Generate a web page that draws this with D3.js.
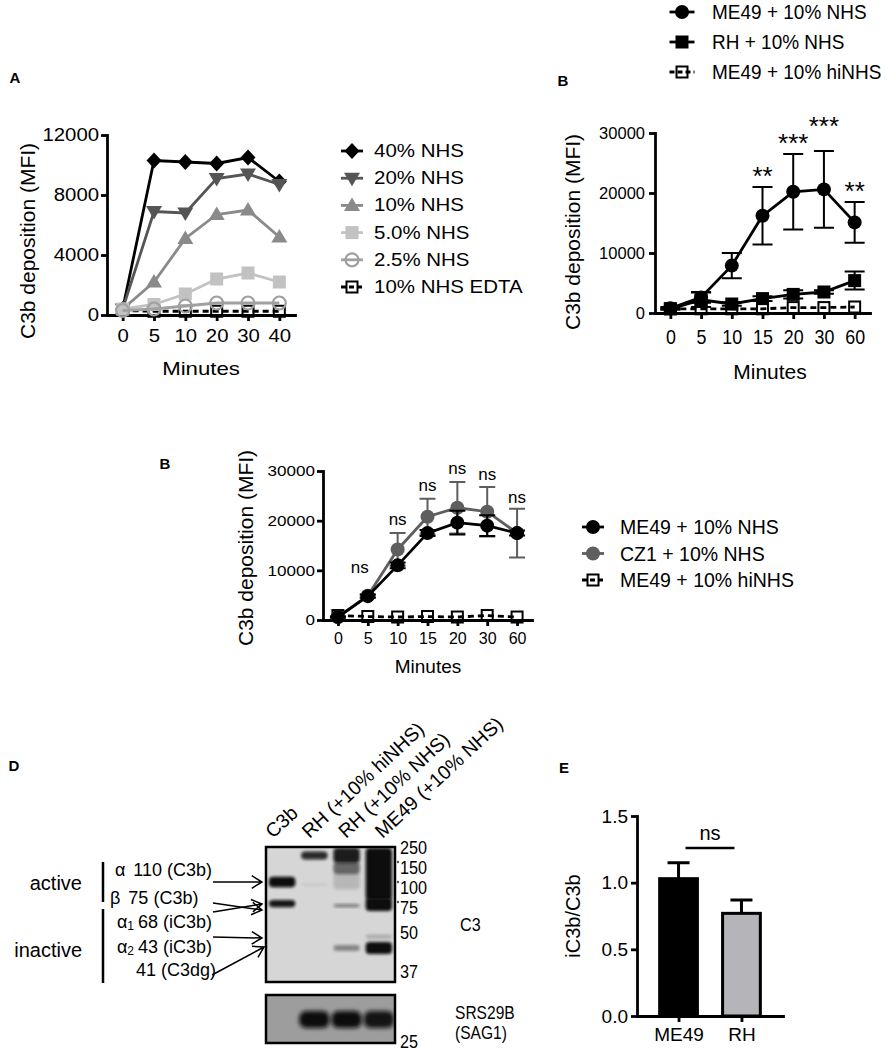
<!DOCTYPE html>
<html><head><meta charset="utf-8">
<script src="https://cdn.jsdelivr.net/npm/d3@7"></script>
<style>
body{margin:0;background:#fff}
svg{display:block}
text{font-family:"Liberation Sans",Arial,Helvetica,sans-serif;fill:#000}
</style>
</head><body>
<svg id="fig" width="893" height="1051"></svg>
<script>
// ================= DATA =================
// Panel A
const minutesA = ["0","5","10","20","30","40"];
const seriesNamesA = ["40% NHS","20% NHS","10% NHS","5.0% NHS","2.5% NHS","10% NHS EDTA"];
const nhs40 = [400,10300,10200,10100,10500,8900];
const nhs20 = [400,6900,6800,9100,9400,8700];
const nhs10 = [400,2200,5100,6700,7000,5200];
const nhs5  = [400,700,1400,2400,2800,2200];
const nhs2_5 = [300,400,600,800,800,800];
const nhsEdta = [300,250,250,250,250,250];
const ticksA = [0,4000,8000,12000];

// Panel B (top right)
const minutesB = ["0","5","10","15","20","30","60"];
const seriesNamesB = ["ME49 + 10% NHS","RH + 10% NHS","ME49 + 10% hiNHS"];
const me49B = [800,2600,7900,16200,20200,20600,15100];
const me49BErr = [200,900,2100,4800,6300,6400,3400];
const rhB = [700,2200,1500,2400,3100,3500,5400];
const rhBErr = [100,1200,300,400,700,300,1500];
const hiB = [700,700,700,700,900,900,1000];
const sigB = ["","","","**","***","***","**"];
const sigBLevel = [0,0,0,23300,28800,31600,20900];
const ticksB = [0,10000,20000,30000];

// Panel B (middle)
const minutesC = ["0","5","10","15","20","30","60"];
const seriesNamesC = ["ME49 + 10% NHS","CZ1 + 10% NHS","ME49 + 10% hiNHS"];
const me49C = [600,4800,11000,17500,19600,19000,17500];
const me49CErr = [100,300,600,600,2400,2100,500];
const cz1C = [600,4900,14200,20800,22600,21800,17500];
const cz1CErr = [100,300,3300,3600,5200,5000,4900];
const hiC = [900,700,600,700,600,900,600];
const sigC = ["","ns","ns","ns","ns","ns","ns"];
const sigCLevel = [0,10600,20200,27000,30600,29200,24600];
const ticksC = [0,10000,20000,30000];

// Panel D (western blot)
const lanes = ["C3b","RH (+10% hiNHS)","RH (+10% NHS)","ME49 (+10% NHS)"];
const ladderKDa = [250,150,100,75,50,37];
const ladderDots = [150,100,75];
const bandsC3 = [
  {lane:"C3b", hi:128, lo:102, density:1.0},
  {lane:"C3b", hi:85, lo:76, density:0.95},
  {lane:"RH (+10% hiNHS)", hi:112, lo:106, density:0.08},
  {lane:"RH (+10% hiNHS)", hi:232, lo:192, density:0.85},
  {lane:"RH (+10% NHS)", hi:140, lo:98, density:0.15},
  {lane:"RH (+10% NHS)", hi:180, lo:135, density:0.55},
  {lane:"RH (+10% NHS)", hi:250, lo:175, density:0.92},
  {lane:"RH (+10% NHS)", hi:80, lo:76, density:0.45},
  {lane:"RH (+10% NHS)", hi:46, lo:44, density:0.4},
  {lane:"ME49 (+10% NHS)", hi:250, lo:85, density:1.0},
  {lane:"ME49 (+10% NHS)", hi:88, lo:72, density:1.0},
  {lane:"ME49 (+10% NHS)", hi:49.5, lo:48, density:0.2},
  {lane:"ME49 (+10% NHS)", hi:47, lo:43, density:1.0}
];
const sag1Density = [0, 1, 1, 0.95];
const chainGreek = ["α","β","α","α",""];
const chainSub = ["","","1","2",""];
const chainKDa = ["110","75","68","43","41"];
const chainForm = ["C3b","C3b","iC3b","iC3b","C3dg"];

// Panel E
const strainsE = ["ME49","RH"];
const ratioE = [1.03, 0.77];
const ratioErrE = [0.12, 0.10];
const ticksE = [0, 0.5, 1.0, 1.5];
const sigELevel = 1.26;

// ================= DRAWING =================
const FONT = '"Liberation Sans", Arial, Helvetica, sans-serif';
const svg = d3.select("#fig");
svg.append("rect").attr("width",893).attr("height",1051).attr("fill","#fff");
const defs = svg.append("defs");
defs.append("filter").attr("id","blur").attr("x","-50%").attr("y","-50%").attr("width","200%").attr("height","200%")
  .append("feGaussianBlur").attr("stdDeviation",1.5);
defs.append("filter").attr("id","blur2").attr("x","-50%").attr("y","-50%").attr("width","200%").attr("height","200%")
  .append("feGaussianBlur").attr("stdDeviation",2.2);

function label(g, x, y, s, size, o = {}) {
  let tr = `translate(${x},${y})`;
  if (o.rot) tr += ` rotate(${o.rot})`;
  if (o.sx) tr += ` scale(${o.sx},1)`;
  return g.append("text").attr("transform", tr)
    .attr("text-anchor", o.anchor || "start")
    .attr("dominant-baseline", o.base || "central")
    .attr("font-size", size)
    .attr("font-weight", o.bold ? "bold" : null)
    .text(s);
}

function marker(g, type, x, y, color) {
  if (type === "diamond") {
    g.append("path").attr("d", `M${x},${y-8}L${x+7.5},${y}L${x},${y+8}L${x-7.5},${y}Z`).attr("fill", color);
  } else if (type === "tridown") {
    g.append("path").attr("d", `M${x-8},${y-5.5}L${x+8},${y-5.5}L${x},${y+8}Z`).attr("fill", color);
  } else if (type === "triup") {
    g.append("path").attr("d", `M${x-8},${y+5.5}L${x+8},${y+5.5}L${x},${y-8}Z`).attr("fill", color);
  } else if (type === "square") {
    g.append("rect").attr("x", x-6.5).attr("y", y-6.5).attr("width", 13).attr("height", 13).attr("fill", color);
  } else if (type === "osquare") {
    g.append("rect").attr("x", x-5.5).attr("y", y-5.5).attr("width", 11).attr("height", 11)
      .attr("fill", "none").attr("stroke", color).attr("stroke-width", 2);
  } else if (type === "ocircle") {
    g.append("circle").attr("cx", x).attr("cy", y).attr("r", 6.5)
      .attr("fill", "none").attr("stroke", color).attr("stroke-width", 2.2);
  } else if (type === "circle") {
    g.append("circle").attr("cx", x).attr("cy", y).attr("r", 7).attr("fill", color);
  }
}

function styleAxis(sel, size, lw, sx, textX) {
  sel.attr("font-size", size).attr("font-family", FONT);
  sel.select(".domain").attr("stroke", "#000").attr("stroke-width", lw).attr("stroke-linecap", "square");
  sel.selectAll(".tick line").attr("stroke", "#000").attr("stroke-width", lw);
  sel.selectAll(".tick text").attr("fill", "#000");
  if (sx) {
    sel.selectAll(".tick text").attr("transform", `scale(${sx},1)`);
    if (textX !== undefined) sel.selectAll(".tick text").attr("x", textX / sx);
  }
}

function linePanel(cfg) {
  const g = svg.append("g");
  const x = d3.scalePoint().domain(cfg.cats).range(cfg.xr).padding(0.5);
  const y = d3.scaleLinear().domain([0, cfg.ymax]).range(cfg.yr);
  const ax = g.append("g").attr("transform", `translate(0,${cfg.yr[0]})`)
    .call(d3.axisBottom(x).tickSize(6).tickSizeOuter(0).tickPadding(cfg.xPad));
  styleAxis(ax, cfg.xFont, 2.8, cfg.xSx);
  const ay = g.append("g").attr("transform", `translate(${cfg.xr[0]},0)`)
    .call(d3.axisLeft(y).tickValues(cfg.yTicks).tickSize(6).tickSizeOuter(0).tickPadding(cfg.yPad).tickFormat(d3.format("d")));
  styleAxis(ay, cfg.yFont, 2.8, cfg.ySx, -(6 + cfg.yPad));
  cfg.series.forEach(s => {
    const line = d3.line().x((d, i) => x(cfg.cats[i])).y(d => y(d));
    if (s.err) {
      s.err.forEach((e, i) => {
        const cx = x(cfg.cats[i]);
        const top = y(s.values[i] + e), bot = y(Math.max(0, s.values[i] - e));
        const c = cfg.cap;
        g.append("path").attr("d", `M${cx},${top}V${bot}M${cx-c},${top}H${cx+c}M${cx-c},${bot}H${cx+c}`)
          .attr("fill", "none").attr("stroke", s.errColor || s.color).attr("stroke-width", 2);
      });
    }
    g.append("path").datum(s.values).attr("d", line).attr("fill", "none")
      .attr("stroke", s.color).attr("stroke-width", s.lw || 2.8)
      .attr("stroke-dasharray", s.dash ? "6,4" : null);
    s.values.forEach((v, i) => marker(g, s.marker, x(cfg.cats[i]), y(v), s.markerColor || s.color));
  });
  if (cfg.sig) {
    cfg.sig.forEach((t, i) => {
      if (!t) return;
      label(g, x(cfg.cats[i]) + (cfg.sigDx ? cfg.sigDx[i] : 0), y(cfg.sigLevel[i]) + (cfg.sigOffset || 0), t, cfg.sigFont,
        {anchor: "middle", base: cfg.sigBase || "central"});
    });
  }
  return {g, x, y};
}

function legend(items, mx, tx, y0, dy, font, sx, half) {
  const g = svg.append("g");
  items.forEach((it, i) => {
    const yy = y0 + i * dy;
    g.append("line").attr("x1", mx - half).attr("x2", mx + half).attr("y1", yy).attr("y2", yy)
      .attr("stroke", it.color).attr("stroke-width", 2.8).attr("stroke-dasharray", it.dash ? "5,3" : null);
    marker(g, it.marker, mx, yy, it.markerColor || it.color);
    label(g, tx, yy, it.name, font, {sx: sx});
  });
}

// ---------- Panel A ----------
const stylesA = [
  {values: nhs40, color: "#000", marker: "diamond"},
  {values: nhs20, color: "#555", marker: "tridown"},
  {values: nhs10, color: "#8a8a8a", marker: "triup"},
  {values: nhs5, color: "#c2c2c2", marker: "square"},
  {values: nhs2_5, color: "#a0a0a0", marker: "ocircle"},
  {values: nhsEdta, color: "#000", marker: "osquare", dash: true}
];
linePanel({
  cats: minutesA, xr: [107, 295], yr: [315, 135], ymax: 12000, yTicks: ticksA,
  xFont: 18.5, xSx: 1.1, xPad: 8, yFont: 18, ySx: 1.13, yPad: 2, cap: 8,
  series: [stylesA[5], stylesA[0], stylesA[1], stylesA[2], stylesA[3], stylesA[4]]
});
legend(stylesA.map((s, i) => Object.assign({name: seriesNamesA[i]}, s)), 352, 374, 151, 27.2, 17.5, 1.17, 11);
label(svg, 27, 241, "C3b deposition (MFI)", 21, {anchor: "middle", rot: -90});
label(svg, 201, 368, "Minutes", 19, {anchor: "middle", sx: 1.17});
label(svg, 15, 77, "A", 15, {anchor: "middle", bold: true});

// ---------- Panel B (top right) ----------
const stylesB = [
  {values: me49B, err: me49BErr, color: "#000", marker: "circle"},
  {values: rhB, err: rhBErr, color: "#000", marker: "square"},
  {values: hiB, color: "#000", marker: "osquare", dash: true}
];
linePanel({
  cats: minutesB, xr: [655, 870], yr: [313, 133], ymax: 30000, yTicks: ticksB,
  xFont: 21, xSx: 0.85, xPad: 10, yFont: 16.5, yPad: 4, cap: 10,
  series: [stylesB[2], stylesB[1], stylesB[0]],
  sig: sigB, sigLevel: sigBLevel, sigFont: 26, sigOffset: 12, sigBase: "auto"
});
legend(stylesB.map((s, i) => Object.assign({name: seriesNamesB[i]}, s)), 682, 712, 12, 30, 20, 0.95, 12.5);
label(svg, 572, 232, "C3b deposition (MFI)", 21, {anchor: "middle", rot: -90});
label(svg, 770, 371, "Minutes", 21, {anchor: "middle"});
label(svg, 563, 80, "B", 15, {anchor: "middle", bold: true});

// ---------- Panel B (middle) ----------
const stylesC = [
  {values: me49C, err: me49CErr, color: "#000", marker: "circle"},
  {values: cz1C, err: cz1CErr, color: "#5e5e5e", marker: "circle"},
  {values: hiC, color: "#000", marker: "osquare", dash: true}
];
linePanel({
  cats: minutesC, xr: [323, 532], yr: [620, 471], ymax: 30000, yTicks: ticksC,
  xFont: 16, xPad: 7, yFont: 15.5, ySx: 1.1, yPad: 2, cap: 8,
  series: [stylesC[2], stylesC[1], stylesC[0]],
  sig: sigC, sigLevel: sigCLevel, sigFont: 17, sigDx: [0, -8, 0, 0, 0, 0, 0]
});
legend(stylesC.map((s, i) => Object.assign({name: seriesNamesC[i]}, s)), 593, 620, 527, 26.5, 19.5, null, 11);
label(svg, 245, 548, "C3b deposition (MFI)", 21, {anchor: "middle", rot: -90});
label(svg, 428, 666, "Minutes", 19, {anchor: "middle"});
label(svg, 165, 463, "B", 15, {anchor: "middle", bold: true});

// ---------- Panel D (blot) ----------
const gD = svg.append("g");
const blotX = d3.scaleBand().domain(lanes).range([266, 395]).paddingInner(0.12).paddingOuter(0.06);
const mw = d3.scaleLinear().domain(ladderKDa).range([848, 868, 888, 908, 933, 972]).clamp(true);
const topBlot = {x: 266, y: 847, w: 129, h: 135};
const botBlot = {x: 266, y: 995, w: 129, h: 48};
defs.append("clipPath").attr("id", "clipTop").append("rect")
  .attr("x", topBlot.x).attr("y", topBlot.y).attr("width", topBlot.w).attr("height", topBlot.h);
defs.append("clipPath").attr("id", "clipBot").append("rect")
  .attr("x", botBlot.x).attr("y", botBlot.y).attr("width", botBlot.w).attr("height", botBlot.h);

gD.append("rect").attr("x", topBlot.x).attr("y", topBlot.y).attr("width", topBlot.w).attr("height", topBlot.h)
  .attr("fill", "#d6d6d6");
const bandG = gD.append("g").attr("clip-path", "url(#clipTop)");
bandG.selectAll("rect.band").data(bandsC3).join("rect").attr("class", "band")
  .attr("x", d => blotX(d.lane) + 1)
  .attr("width", blotX.bandwidth() - 2)
  .attr("y", d => mw(d.hi))
  .attr("height", d => Math.max(2, mw(d.lo) - mw(d.hi)))
  .attr("rx", 4)
  .attr("fill", "#0a0a0a")
  .attr("opacity", d => d.density)
  .attr("filter", "url(#blur)");
gD.append("rect").attr("x", topBlot.x).attr("y", topBlot.y).attr("width", topBlot.w).attr("height", topBlot.h)
  .attr("fill", "none").attr("stroke", "#000").attr("stroke-width", 2.5);

gD.append("rect").attr("x", botBlot.x).attr("y", botBlot.y).attr("width", botBlot.w).attr("height", botBlot.h)
  .attr("fill", "#9d9d9d");
const bandG2 = gD.append("g").attr("clip-path", "url(#clipBot)");
bandG2.selectAll("rect").data(lanes).join("rect")
  .attr("x", d => blotX(d) - 1)
  .attr("width", blotX.bandwidth() + 2)
  .attr("y", 1011).attr("height", 17).attr("rx", 7)
  .attr("fill", "#0a0a0a")
  .attr("opacity", (d, i) => sag1Density[i])
  .attr("filter", "url(#blur2)");
gD.append("rect").attr("x", botBlot.x).attr("y", botBlot.y).attr("width", botBlot.w).attr("height", botBlot.h)
  .attr("fill", "none").attr("stroke", "#000").attr("stroke-width", 2.5);

// ladder
ladderKDa.forEach(k => label(gD, 400, mw(k), String(k), 18, {sx: 0.9}));
label(gD, 400, 1042, "25", 18, {sx: 0.9});
ladderDots.forEach(k => gD.append("circle").attr("cx", 398).attr("cy", mw(k) - 6).attr("r", 1.2).attr("fill", "#555"));
label(gD, 460, 925, "C3", 19, {sx: 0.85});
label(gD, 455, 1012, "SRS29B", 19, {sx: 0.82});
label(gD, 455, 1032, "(SAG1)", 19, {sx: 0.82});

// lane labels
lanes.forEach((ln, i) => {
  label(gD, 273 + i * 36.5, 839, ln, 19.5, {rot: -43, base: "auto"});
});

// left annotations
label(gD, 82, 883, "active", 20, {anchor: "end"});
label(gD, 82, 950, "inactive", 20, {anchor: "end"});
gD.append("path").attr("d", "M103,862V902M103,909V983").attr("stroke", "#000").attr("stroke-width", 2.5);
const rowY = [870, 898, 922, 947, 970];
const rowX = [212, 110, 212, 212, 212];
const rowAnchor = ["end", "start", "end", "end", "end"];
chainKDa.forEach((k, i) => {
  const t = gD.append("text").attr("x", rowX[i]).attr("y", rowY[i])
    .attr("text-anchor", rowAnchor[i]).attr("dominant-baseline", "central").attr("font-size", 18);
  if (chainGreek[i]) t.append("tspan").text(chainGreek[i]);
  if (chainSub[i]) t.append("tspan").attr("font-size", 12).attr("dy", 4).text(chainSub[i]);
  const main = t.append("tspan").attr("dy", chainSub[i] ? -4 : 0).attr("dx", chainGreek[i] && !chainSub[i] ? 8 : 4);
  main.text(`${k} (${chainForm[i]})`);
});
const arrows = [[213,882,262,882],[213,903,262,910],[213,912,262,904],[213,937,262,938],[212,975,264,947]];
arrows.forEach(([x1, y1, x2, y2]) => {
  const a = Math.atan2(y2 - y1, x2 - x1), L = 12, W = 0.55;
  gD.append("path")
    .attr("d", `M${x1},${y1}L${x2},${y2}M${x2 - L*Math.cos(a - W)},${y2 - L*Math.sin(a - W)}L${x2},${y2}L${x2 - L*Math.cos(a + W)},${y2 - L*Math.sin(a + W)}`)
    .attr("fill", "none").attr("stroke", "#000").attr("stroke-width", 1.5);
});
label(svg, 14, 765, "D", 15, {anchor: "middle", bold: true});

// ---------- Panel E ----------
const gE = svg.append("g");
const xE = d3.scalePoint().domain(strainsE).range([637, 783]).padding(0.66);
const yE = d3.scaleLinear().domain([0, 1.5]).range([1016, 816]);
const barW = xE.step() * 0.6;
strainsE.forEach((s, i) => {
  const cx = xE(s);
  gE.append("path").attr("d", `M${cx},${yE(ratioE[i])}V${yE(ratioE[i] + ratioErrE[i])}M${cx - 11},${yE(ratioE[i] + ratioErrE[i])}H${cx + 11}`)
    .attr("stroke", "#000").attr("stroke-width", 3).attr("fill", "none");
});
gE.selectAll("rect.bar").data(strainsE).join("rect").attr("class", "bar")
  .attr("x", d => xE(d) - barW / 2).attr("width", barW)
  .attr("y", (d, i) => yE(ratioE[i])).attr("height", (d, i) => yE(0) - yE(ratioE[i]))
  .attr("fill", (d, i) => i === 0 ? "#000" : "#b4b4b9")
  .attr("stroke", "#000").attr("stroke-width", 3);
const axE = gE.append("g").attr("transform", `translate(0,1016)`)
  .call(d3.axisBottom(xE).tickSize(6).tickSizeOuter(0).tickPadding(6));
styleAxis(axE, 19, 2.8);
const ayE = gE.append("g").attr("transform", `translate(637,0)`)
  .call(d3.axisLeft(yE).tickValues(ticksE).tickSize(6).tickSizeOuter(0).tickPadding(3).tickFormat(d3.format(".1f")));
styleAxis(ayE, 19, 2.8);
gE.append("line").attr("x1", xE(strainsE[0]) + 7).attr("x2", xE(strainsE[1]) - 7)
  .attr("y1", yE(sigELevel)).attr("y2", yE(sigELevel)).attr("stroke", "#000").attr("stroke-width", 2.5);
label(gE, (xE(strainsE[0]) + xE(strainsE[1])) / 2, yE(sigELevel) - 15, "ns", 20, {anchor: "middle"});
label(svg, 573, 916, "iC3b/C3b", 20, {anchor: "middle", rot: -90});
label(svg, 564, 767, "E", 15, {anchor: "middle", bold: true});
</script>
</body></html>
